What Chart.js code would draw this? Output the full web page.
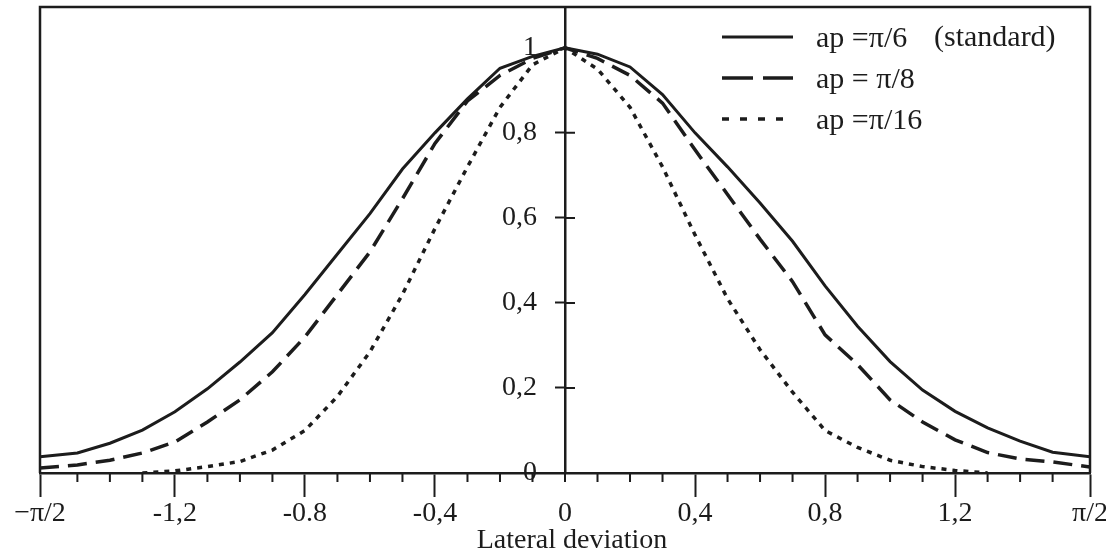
<!DOCTYPE html>
<html>
<head>
<meta charset="utf-8">
<script src="https://cdn.jsdelivr.net/npm/chart.js@4.4.1/dist/chart.umd.min.js"></script>
<style>
  html, body { margin: 0; padding: 0; background: #fff; }
  #wrap { width: 1106px; height: 557px; }
</style>
</head>
<body>
<div id="wrap"><canvas id="chart"></canvas></div>
<script>
/* global Chart */

// lateral deviation (rad), the frame edges are labelled -pi/2 and pi/2
const DEVIATION = [-1.615, -1.5, -1.4, -1.3, -1.2, -1.1, -1.0, -0.9, -0.8, -0.7, -0.6, -0.5, -0.4, -0.3, -0.2, -0.1,
  0, 0.1, 0.2, 0.3, 0.4, 0.5, 0.6, 0.7, 0.8, 0.9, 1.0, 1.1, 1.2, 1.3, 1.4, 1.5, 1.615];

const AP_PI_6 = [0.038, 0.047, 0.07, 0.101, 0.144, 0.198, 0.261, 0.33, 0.42, 0.515, 0.61, 0.715, 0.80, 0.88, 0.952, 0.98,
  1.0, 0.985, 0.955, 0.89, 0.80, 0.72, 0.635, 0.545, 0.44, 0.345, 0.262, 0.195, 0.145, 0.106, 0.075, 0.049, 0.038];

const AP_PI_8 = [0.012, 0.019, 0.03, 0.047, 0.073, 0.12, 0.172, 0.238, 0.32, 0.42, 0.52, 0.645, 0.775, 0.875, 0.935, 0.975,
  1.0, 0.975, 0.935, 0.87, 0.76, 0.655, 0.55, 0.45, 0.325, 0.255, 0.172, 0.12, 0.078, 0.048, 0.033, 0.026, 0.014];

const AP_PI_16 = [null, null, null, 0, 0.005, 0.015, 0.027, 0.054, 0.10, 0.18, 0.285, 0.42, 0.575, 0.72, 0.86, 0.96,
  1.0, 0.95, 0.86, 0.72, 0.56, 0.41, 0.29, 0.19, 0.10, 0.06, 0.03, 0.015, 0.006, 0, null, null, null];

const SERIES_LABELS = ['ap =\u03c0/6', 'ap = \u03c0/8', 'ap =\u03c0/16'];

const X_TICKS = [-1.615, -1.5, -1.4, -1.3, -1.2, -1.1, -1.0, -0.9, -0.8, -0.7, -0.6, -0.5, -0.4, -0.3, -0.2, -0.1,
  0, 0.1, 0.2, 0.3, 0.4, 0.5, 0.6, 0.7, 0.8, 0.9, 1.0, 1.1, 1.2, 1.3, 1.4, 1.5, 1.615];
const X_MAJOR = [-1.615, -1.2, -0.8, -0.4, 0.4, 0.8, 1.2, 1.615];
const X_LABEL_AT = [-1.615, -1.2, -0.8, -0.4, 0, 0.4, 0.8, 1.2, 1.615];
const X_LABELS = ['\u2212\u03c0/2', '-1,2', '-0.8', '-0,4', '0', '0,4', '0,8', '1,2', '\u03c0/2'];

const Y_TICKS = [0, 0.2, 0.4, 0.6, 0.8, 1];
const Y_LABELS = ['0', '0,2', '0,4', '0,6', '0,8', '1'];

const INK = '#1c1c1c';
const FONT = 'Liberation Serif, Times New Roman, serif';

const DASHES = [[], [19, 9], [5, 6]];
const LEGEND_DASHES = [[], [31, 10], [7, 11]];

function points(ys) {
  return DEVIATION.map((x, i) => ({ x, y: ys[i] }));
}

// frame, crossing y ticks, short x ticks and the legend
const decorations = {
  id: 'decorations',
  afterDraw(chart) {
    const { ctx, chartArea: a, scales } = chart;
    const xs = scales.x, ys = scales.y;
    const x0 = xs.getPixelForValue(0);
    ctx.save();
    ctx.strokeStyle = INK;
    ctx.lineWidth = 2.5;
    ctx.beginPath();
    ctx.moveTo(a.left, a.bottom);
    ctx.lineTo(a.left, a.top);
    ctx.lineTo(a.right, a.top);
    ctx.lineTo(a.right, a.bottom);
    ctx.stroke();

    ctx.lineWidth = 2;
    ctx.beginPath();
    xs.ticks.forEach(t => {
      if (X_MAJOR.includes(t.value)) return;
      const px = xs.getPixelForValue(t.value);
      ctx.moveTo(px, a.bottom);
      ctx.lineTo(px, a.bottom + 9);
    });
    ys.ticks.forEach(t => {
      if (t.value === 0 || t.value === 1) return;
      const py = ys.getPixelForValue(t.value);
      ctx.moveTo(x0, py);
      ctx.lineTo(x0 + 10, py);
    });
    ctx.stroke();

    // legend
    const rows = [37, 78, 119];
    ctx.font = '30px ' + FONT;
    ctx.fillStyle = INK;
    ctx.textBaseline = 'middle';
    chart.data.datasets.forEach((ds, i) => {
      ctx.setLineDash(LEGEND_DASHES[i]);
      ctx.lineWidth = ds.borderWidth;
      ctx.beginPath();
      ctx.moveTo(722, rows[i]);
      ctx.lineTo(793, rows[i]);
      ctx.stroke();
      ctx.fillText(ds.label, 816, rows[i] + 2);
    });
    ctx.setLineDash([]);
    ctx.fillText('(standard)', 934, rows[0] + 1);
    ctx.restore();
  }
};

new Chart(document.getElementById('chart'), {
  type: 'line',
  data: {
    datasets: [
      { label: SERIES_LABELS[0], data: points(AP_PI_6), borderDash: DASHES[0], borderWidth: 3 },
      { label: SERIES_LABELS[1], data: points(AP_PI_8), borderDash: DASHES[1], borderWidth: 3.5 },
      { label: SERIES_LABELS[2], data: points(AP_PI_16), borderDash: DASHES[2], borderWidth: 3.5 },
    ].map(ds => ({ ...ds, borderColor: INK, backgroundColor: INK, pointRadius: 0, tension: 0, fill: false, spanGaps: false })),
  },
  options: {
    responsive: true,
    maintainAspectRatio: false,
    animation: false,
    layout: { padding: { left: 40, right: 16, top: 7, bottom: 0 } },
    plugins: { legend: { display: false }, tooltip: { enabled: false } },
    scales: {
      x: {
        type: 'linear',
        min: -1.615,
        max: 1.615,
        afterBuildTicks: s => { s.ticks = X_TICKS.map(v => ({ value: v })); },
        afterFit: s => { s.height = 84; s.paddingLeft = 0; s.paddingRight = 0; },
        ticks: {
          autoSkip: false,
          maxRotation: 0,
          padding: 0,
          color: INK,
          font: { family: FONT, size: 28 },
          callback: v => {
            const i = X_LABEL_AT.indexOf(v);
            return i < 0 ? '' : X_LABELS[i];
          },
        },
        grid: {
          drawOnChartArea: false,
          tickLength: 24,
          tickWidth: 2,
          tickColor: c => (X_MAJOR.includes(c.tick.value) ? INK : 'rgba(0,0,0,0)'),
        },
        border: { color: INK, width: 2.5 },
        title: {
          display: true,
          text: '\u2002Lateral deviation',
          color: INK,
          font: { family: FONT, size: 28 },
          padding: { top: 3, bottom: 0 },
        },
      },
      y: {
        type: 'linear',
        min: 0,
        max: 1.096,
        position: { x: 0 },
        afterBuildTicks: s => { s.ticks = Y_TICKS.map(v => ({ value: v })); },
        afterFit: s => { s.paddingTop = 0; s.paddingBottom = 0; },
        ticks: {
          padding: 17,
          color: INK,
          font: { family: FONT, size: 28 },
          callback: v => {
            const i = Y_TICKS.indexOf(v);
            // the em space keeps the label clear of the centre axis
            return i < 0 ? '' : Y_LABELS[i] + '\u2003';
          },
        },
        grid: {
          drawOnChartArea: false,
          tickLength: 9,
          tickWidth: 2,
          tickColor: c => (c.tick.value === 0 || c.tick.value === 1 ? 'rgba(0,0,0,0)' : INK),
        },
        border: { color: INK, width: 2.5 },
      },
    },
  },
  plugins: [decorations],
});
</script>
</body>
</html>
